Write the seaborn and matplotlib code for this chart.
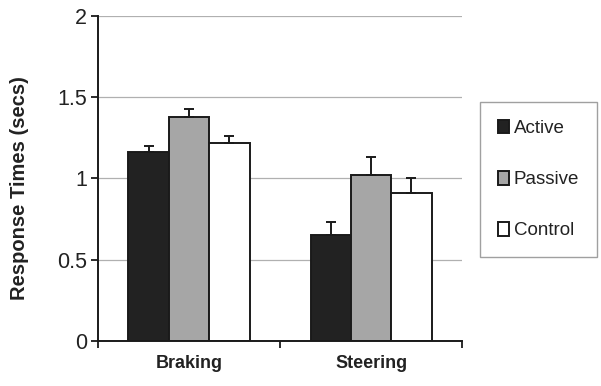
import pandas as pd
import matplotlib.pyplot as plt
import seaborn as sns

# data
tasks = ["Braking", "Steering"]
groups = ["Active", "Passive", "Control"]
active = [1.16, 0.65]
passive = [1.38, 1.02]
control = [1.22, 0.91]
active_err = [0.04, 0.08]
passive_err = [0.05, 0.11]
control_err = [0.04, 0.09]
colors = ["#222222", "#a6a6a6", "#ffffff"]

df = pd.DataFrame({
    "task": tasks * 3,
    "group": [g for g in groups for _ in tasks],
    "time": active + passive + control,
})
errs = [active_err, passive_err, control_err]

sns.set_style("white")
plt.rcParams["font.family"] = ["Liberation Sans", "DejaVu Sans"]

fig = plt.figure(figsize=(6.01, 3.86), dpi=100)
ax = fig.add_axes([0.163, 0.1166, 0.606, 0.842])

sns.barplot(data=df, x="task", y="time", hue="group", hue_order=groups,
            palette=colors, edgecolor="#1a1a1a", linewidth=1.4,
            errorbar=None, width=0.665, saturation=1, ax=ax)

# one-sided (upward) error bars
for cont, e in zip(ax.containers, errs):
    xs = [b.get_x() + b.get_width() / 2 for b in cont]
    ys = [b.get_height() for b in cont]
    ax.errorbar(xs, ys, yerr=[[0] * len(e), e], fmt="none", ecolor="#1a1a1a",
                elinewidth=1.4, capsize=3.5, capthick=1.4, zorder=3)

ax.set_ylim(0, 2)
ax.set_xlim(-0.5, 1.5)
ax.set_yticks([0, 0.5, 1, 1.5, 2])
ax.set_yticklabels(["0", "0.5", "1", "1.5", "2"])
ax.yaxis.grid(True, color="#b0b0b0", linewidth=0.9)
ax.set_axisbelow(True)
ax.set_xticks([-0.5, 0.5, 1.5], minor=False)
ax.set_xticklabels(["", "", ""])
ax.set_xticks([0, 1], minor=True)
ax.set_xticklabels(tasks, minor=True, fontsize=13, fontweight="bold",
                   color="#222222")
ax.tick_params(axis="x", which="minor", length=0, pad=10)
ax.tick_params(axis="x", which="major", direction="out", length=5, width=1.3,
               color="#1a1a1a", bottom=True)
ax.tick_params(axis="y", direction="out", length=5, width=1.3, color="#1a1a1a",
               left=True, labelsize=15.5, labelcolor="#222222", pad=3)

for s in ["top", "right"]:
    ax.spines[s].set_visible(False)
for s in ["left", "bottom"]:
    ax.spines[s].set_color("#1a1a1a")
    ax.spines[s].set_linewidth(1.4)

ax.set_xlabel("")
ax.set_ylabel("Response Times (secs)", fontsize=14.5, fontweight="bold",
              color="#222222")
ax.yaxis.set_label_coords(-0.19, 0.472)

handles, labels = ax.get_legend_handles_labels()
leg = ax.legend(handles, labels, loc="upper left", bbox_to_anchor=(0.799, 0.736),
                bbox_transform=fig.transFigure, fontsize=13.5, frameon=True,
                fancybox=False, edgecolor="#888888", labelspacing=1.8,
                handlelength=0.6, handleheight=0.75, handletextpad=0.25,
                borderpad=0.95, borderaxespad=0)
for t in leg.get_texts():
    t.set_color("#222222")

fig.savefig("out.png", dpi=100)
